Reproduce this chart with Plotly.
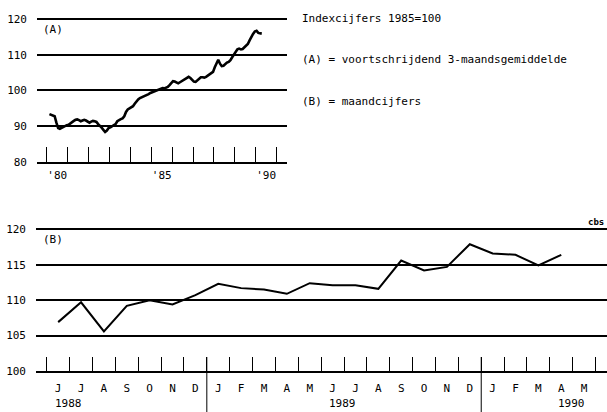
import plotly.graph_objects as go

W, H = 607, 412

# ---- data (A): 3-month moving average, monthly from Feb 1980 to Apr 1990
a_start_year, a_start_month = 1980, 2
a_values = [
    93.4, 93.2, 93.0, 92.8, 91.0, 89.5, 89.3, 89.6, 89.8, 90.1, 90.3,          # 1980 Feb-Dec
    90.4, 90.8, 91.3, 91.5, 91.8, 91.9, 91.7, 91.4, 91.6, 91.8, 91.6, 91.2,    # 1981
    91.0, 91.3, 91.5, 91.4, 91.2, 90.6, 90.2, 89.6, 89.0, 88.4, 88.8, 89.5,    # 1982
    89.7, 90.0, 90.3, 90.6, 91.4, 91.8, 92.0, 92.2, 92.8, 94.0, 94.7, 95.0,    # 1983
    95.2, 95.6, 96.3, 97.0, 97.5, 97.9, 98.1, 98.3, 98.4, 98.6, 99.0, 99.3,    # 1984
    99.5, 99.8, 100.1, 100.3, 100.5, 100.7, 100.7, 100.6, 100.8, 101.0, 101.5, 102.0,  # 1985
    102.6, 102.5, 102.2, 102.0, 102.3, 102.6, 102.9, 103.2, 103.6, 103.8, 103.5, 102.9,  # 1986
    102.5, 102.4, 102.9, 103.4, 103.7, 103.7, 103.6, 103.8, 104.2, 104.6, 104.8, 105.2,  # 1987
    106.5, 107.8, 108.6, 107.5, 106.8, 106.9, 107.4, 107.8, 108.0, 108.5, 109.3, 110.0,  # 1988
    110.9, 111.5, 111.7, 111.5, 111.6, 112.0, 112.4, 113.0, 114.0, 115.0, 115.8, 116.5,  # 1989
    116.7, 116.1, 116.0, 115.9,                                                           # 1990 Jan-Apr
]
a_year_labels = ["'80", "'85", "'90"]
a_label_years = [1980, 1985, 1990]
a_yticks = [80, 90, 100, 110, 120]

# ---- data (B): monthly figures Jun 1988 - Apr 1990
b_months = ["J", "J", "A", "S", "O", "N", "D",
            "J", "F", "M", "A", "M", "J", "J", "A", "S", "O", "N", "D",
            "J", "F", "M", "A", "M"]
b_values = [106.9, 109.7, 105.6, 109.2, 110.0, 109.4, 110.7,
            112.3, 111.7, 111.5, 110.9, 112.4, 112.1, 112.1, 111.6, 115.6, 114.2, 114.7, 117.9,
            116.6, 116.4, 114.9, 116.4]
b_years = ["1988", "1989", "1990"]
b_year_label_index = [0.45, 12.45, 22.45]
b_year_boundaries = [6.5, 18.5]
b_yticks = [100, 105, 110, 115, 120]

FONT = "DejaVu Sans Mono"

a_x = [a_start_year + (a_start_month - 1 + i + 0.5) / 12 for i in range(len(a_values))]
b_x = list(range(len(b_values)))


def py(p):
    return 1 - p / H


fig = go.Figure()
fig.add_trace(go.Scatter(x=a_x, y=a_values, mode="lines",
                         line=dict(color="black", width=2.6), xaxis="x", yaxis="y",
                         showlegend=False, hoverinfo="skip"))
fig.add_trace(go.Scatter(x=b_x, y=b_values, mode="lines",
                         line=dict(color="black", width=2), xaxis="x2", yaxis="y2",
                         showlegend=False, hoverinfo="skip"))

axis_font = dict(family=FONT, size=11, color="black")
GW = 2

fig.update_layout(
    width=W, height=H,
    margin=dict(l=0, r=0, t=0, b=0, autoexpand=False),
    paper_bgcolor="white", plot_bgcolor="white",
    font=axis_font,
    xaxis=dict(domain=[37 / W, 287 / W], range=[1979.53, 1991.5], automargin=False,
               tickmode="array", tickvals=[y + 0.5 for y in a_label_years],
               ticktext=a_year_labels, ticks="", ticklabelstandoff=2,
               minor=dict(tickmode="linear", tick0=1980, dtick=1, ticks="inside",
                          ticklen=15, tickwidth=1, tickcolor="black", showgrid=False),
               showgrid=False, zeroline=False,
               showline=True, linecolor="black", linewidth=GW,
               tickfont=axis_font, anchor="y", fixedrange=True),
    yaxis=dict(domain=[py(162), py(15.4)], range=[80, 121], automargin=False,
               tickmode="array", tickvals=a_yticks, ticks="",
               showgrid=True, gridcolor="black", gridwidth=GW,
               zeroline=False, showline=False, ticklabelstandoff=9,
               tickfont=axis_font, anchor="x", fixedrange=True),
    xaxis2=dict(domain=[36 / W, 1.0], range=[-0.97, 24.0], automargin=False,
                tickmode="array", tickvals=list(range(len(b_months))),
                ticktext=b_months, ticks="", ticklabelstandoff=6,
                minor=dict(tickmode="linear", tick0=-0.5, dtick=1, ticks="inside",
                           ticklen=14, tickwidth=1, tickcolor="black", showgrid=False),
                showgrid=False, zeroline=False,
                showline=True, linecolor="black", linewidth=GW,
                tickfont=axis_font, anchor="y2", fixedrange=True),
    yaxis2=dict(domain=[py(371), py(225.8)], range=[100, 120.5], automargin=False,
                tickmode="array", tickvals=b_yticks, ticks="",
                showgrid=True, gridcolor="black", gridwidth=GW,
                zeroline=False, showline=False, ticklabelstandoff=9,
                tickfont=axis_font, anchor="x2", fixedrange=True),
)

# year-boundary long ticks in (B)
for xb in b_year_boundaries:
    fig.add_shape(type="line", xref="x2", yref="paper", x0=xb, x1=xb,
                  y0=0, y1=py(357), line=dict(color="black", width=1))

ann = []
ann.append(dict(text="(A)", x=41 / W, y=py(30), xref="paper", yref="paper",
                xanchor="left", yanchor="middle", showarrow=False, font=axis_font))
ann.append(dict(text="(B)", x=41 / W, y=py(240), xref="paper", yref="paper",
                xanchor="left", yanchor="middle", showarrow=False, font=axis_font))
legend_lines = ["Indexcijfers 1985=100",
                "(A) = voortschrijdend 3-maandsgemiddelde",
                "(B) = maandcijfers"]
for txt, yp in zip(legend_lines, [19, 60, 101]):
    ann.append(dict(text=txt, x=300 / W, y=py(yp), xref="paper", yref="paper",
                    xanchor="left", yanchor="middle", showarrow=False, font=axis_font))
ann.append(dict(text="<b>cbs</b>", x=586 / W, y=py(222), xref="paper", yref="paper",
                xanchor="left", yanchor="middle", showarrow=False,
                font=dict(family=FONT, size=9, color="black")))
for yl, xi in zip(b_years, b_year_label_index):
    ann.append(dict(text=yl, x=xi, y=py(403.5), xref="x2", yref="paper",
                    xanchor="center", yanchor="middle", showarrow=False, font=axis_font))
fig.update_layout(annotations=ann)

fig.write_html("out.html", config={"displayModeBar": False, "staticPlot": True},
               post_script="document.body.style.margin='0px';document.body.style.overflow='hidden';")
